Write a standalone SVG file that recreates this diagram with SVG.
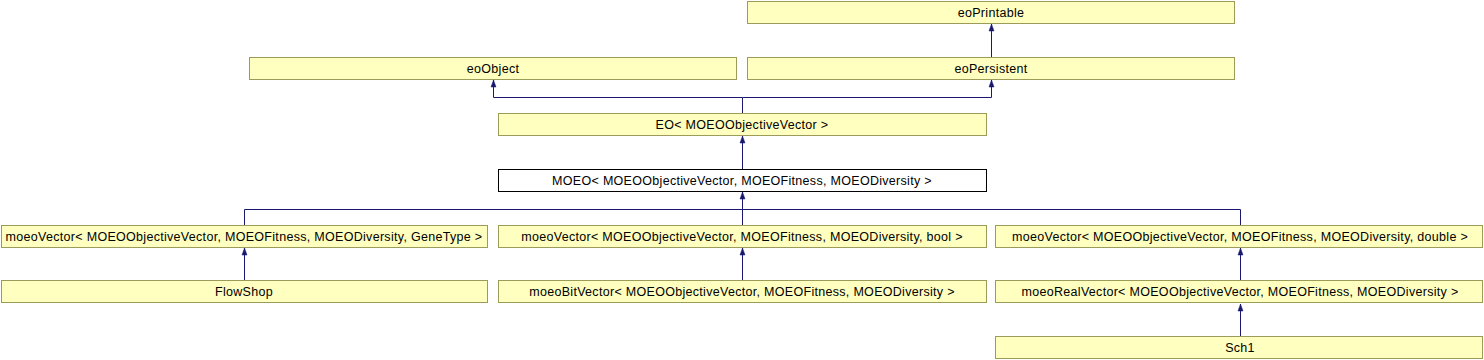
<svg xmlns="http://www.w3.org/2000/svg" width="1484" height="360" viewBox="0 0 1484 360">
<style>
.n rect{fill:#ffffc0;stroke:#9c9c5a;stroke-width:1}
.n.w rect{fill:#ffffff;stroke:#000000}
text{font-family:"Liberation Sans",Arial,sans-serif;font-size:12.5px;fill:#000;text-anchor:middle;letter-spacing:0.3px}
.e{fill:none;stroke:#191970;stroke-width:1}
</style>
<defs>
<marker id="a" markerUnits="userSpaceOnUse" markerWidth="9" markerHeight="8" viewBox="-8 -4 9 8" refX="0" refY="0" orient="auto">
<polygon points="0,0 -7,-2.5 -7,2.5" fill="#191970" stroke="#191970" stroke-width="0.5"/>
</marker>
</defs>
<g id="connectors">
<path class="e" d="M991.5,57 V24" marker-end="url(#a)"/>
<path class="e" d="M742.5,113 V97.5 H493.5 V80" marker-end="url(#a)"/>
<path class="e" d="M742.5,97.5 H991.5 V80" marker-end="url(#a)"/>
<path class="e" d="M742.5,169 V136" marker-end="url(#a)"/>
<path class="e" d="M244.5,225 V209.5 H742.5 V192" marker-end="url(#a)"/>
<path class="e" d="M742.5,225 V209.5"/>
<path class="e" d="M1240.5,225 V209.5 H742.5"/>
<path class="e" d="M244.5,280 V248" marker-end="url(#a)"/>
<path class="e" d="M742.5,280 V248" marker-end="url(#a)"/>
<path class="e" d="M1240.5,280 V248" marker-end="url(#a)"/>
<path class="e" d="M1240.5,336 V304" marker-end="url(#a)"/>
</g>
<g id="eoPrintable" class="n"><rect x="747.5" y="1.5" width="487" height="22"/><text x="991" y="16.5">eoPrintable</text></g>
<g id="eoObject" class="n"><rect x="249.5" y="57.5" width="487" height="22"/><text x="493" y="72.5">eoObject</text></g>
<g id="eoPersistent" class="n"><rect x="747.5" y="57.5" width="487" height="22"/><text x="991" y="72.5">eoPersistent</text></g>
<g id="EO" class="n"><rect x="498.5" y="113.5" width="488" height="22"/><text x="742" y="128.5">EO&lt; MOEOObjectiveVector &gt;</text></g>
<g id="MOEO" class="n w"><rect x="498.5" y="169.5" width="488" height="22"/><text x="742" y="184.5">MOEO&lt; MOEOObjectiveVector, MOEOFitness, MOEODiversity &gt;</text></g>
<g id="moeoVectorGeneType" class="n"><rect x="1.5" y="225.5" width="486" height="22"/><text x="244" y="240.5">moeoVector&lt; MOEOObjectiveVector, MOEOFitness, MOEODiversity, GeneType &gt;</text></g>
<g id="moeoVectorBool" class="n"><rect x="498.5" y="225.5" width="488" height="22"/><text x="742" y="240.5">moeoVector&lt; MOEOObjectiveVector, MOEOFitness, MOEODiversity, bool &gt;</text></g>
<g id="moeoVectorDouble" class="n"><rect x="995.5" y="225.5" width="487" height="22"/><text x="1240" y="240.5">moeoVector&lt; MOEOObjectiveVector, MOEOFitness, MOEODiversity, double &gt;</text></g>
<g id="FlowShop" class="n"><rect x="1.5" y="280.5" width="486" height="22"/><text x="244" y="295.5">FlowShop</text></g>
<g id="moeoBitVector" class="n"><rect x="498.5" y="280.5" width="488" height="22"/><text x="742" y="295.5">moeoBitVector&lt; MOEOObjectiveVector, MOEOFitness, MOEODiversity &gt;</text></g>
<g id="moeoRealVector" class="n"><rect x="995.5" y="280.5" width="487" height="22"/><text x="1240" y="295.5">moeoRealVector&lt; MOEOObjectiveVector, MOEOFitness, MOEODiversity &gt;</text></g>
<g id="Sch1" class="n"><rect x="995.5" y="336.5" width="487" height="22"/><text x="1240" y="351.5">Sch1</text></g>
</svg>
